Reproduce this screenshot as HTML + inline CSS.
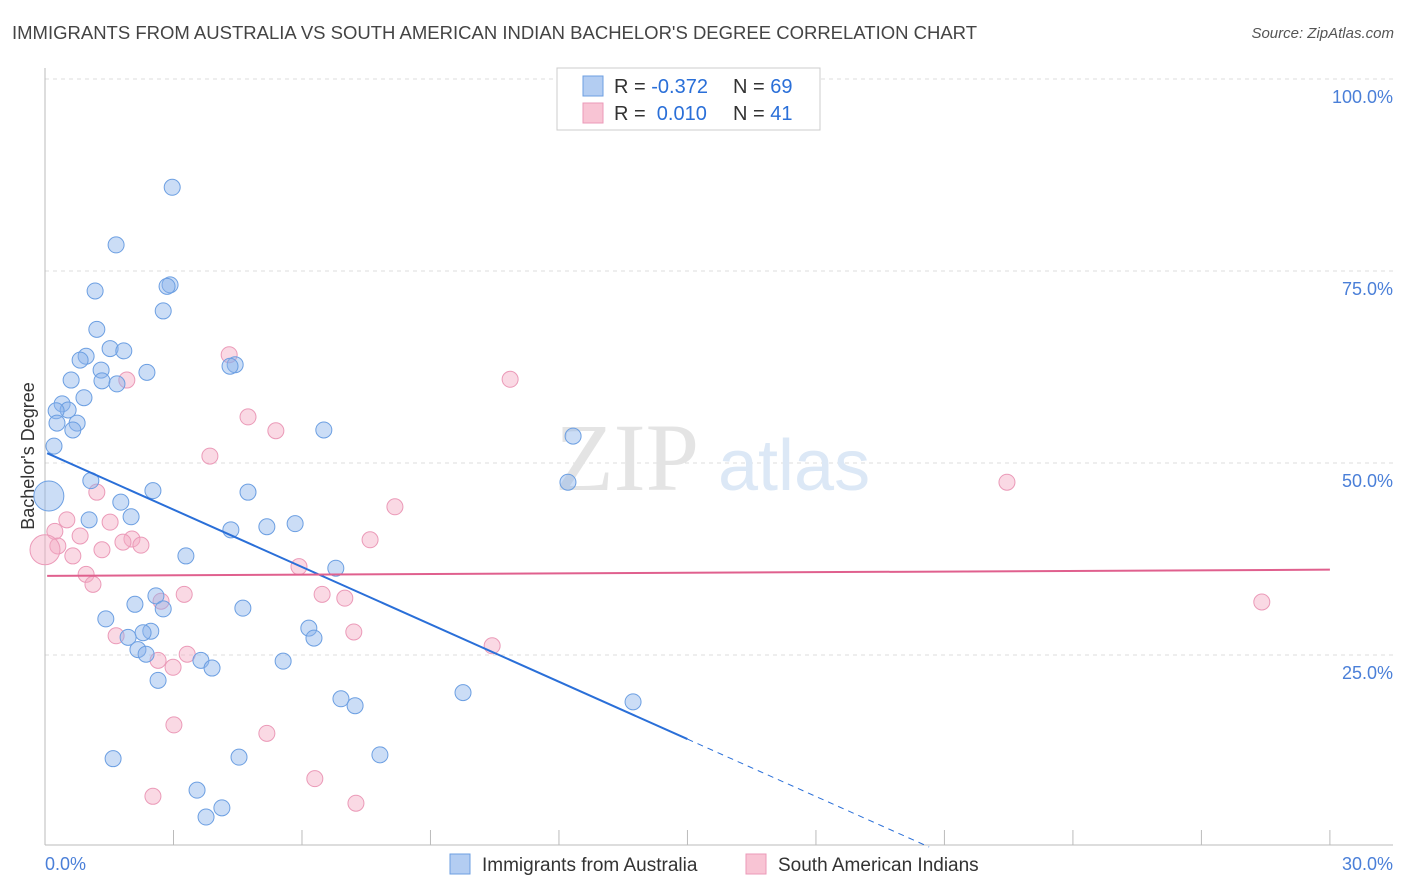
<!DOCTYPE html>
<html><head><meta charset="utf-8"><style>
body{margin:0;background:#fff;font-family:"Liberation Sans",sans-serif;}
#wrap{position:relative;width:1406px;height:892px;overflow:hidden;}
.t{position:absolute;white-space:nowrap;}
</style></head><body>
<div id="wrap">
<div class="t" style="left:12px;top:22px;font-size:18.5px;color:#444;">IMMIGRANTS FROM AUSTRALIA VS SOUTH AMERICAN INDIAN BACHELOR'S DEGREE CORRELATION CHART</div>
<div class="t" style="right:12px;top:25px;font-size:15px;color:#555;font-style:italic;">Source: ZipAtlas.com</div>
<svg id="svg" width="1406" height="892" style="position:absolute;left:0;top:0"></svg>
</div>
<script>
const blueX=[2.97,1.66,1.17,2.92,2.85,2.76,1.21,1.52,1.84,0.96,0.82,1.31,2.38,0.61,1.33,1.68,4.44,4.32,0.91,0.40,0.54,0.26,0.28,0.75,0.65,6.51,12.33,0.21,0.09,1.07,2.52,4.74,12.21,1.77,2.01,1.03,5.84,5.18,4.34,3.29,6.79,2.59,2.10,2.76,4.62,1.42,6.16,2.47,2.29,1.94,6.28,2.17,2.36,3.64,5.56,3.90,2.64,9.76,6.91,7.24,13.73,1.59,4.53,7.82,3.55,4.13,3.76];
const blueY=[85.9,78.4,72.4,73.2,73.0,69.8,67.4,64.9,64.6,63.9,63.4,62.1,61.8,60.8,60.7,60.3,62.8,62.6,58.5,57.7,56.9,56.8,55.2,55.2,54.3,54.3,53.5,52.2,45.7,47.7,46.4,46.2,47.5,44.9,43.0,42.6,42.1,41.7,41.3,37.9,36.3,32.7,31.6,31.0,31.1,29.7,28.5,28.1,27.9,27.3,27.2,25.7,25.1,24.3,24.2,23.3,21.7,20.1,19.3,18.4,18.9,11.5,11.7,12.0,7.4,5.1,3.9];
const pinkX=[4.30,10.86,1.91,4.74,5.39,3.85,1.21,8.17,22.46,0.51,1.52,0.23,0.82,2.03,1.82,2.24,7.59,0.30,1.33,0.65,0.0,5.93,0.96,1.12,6.47,3.25,2.71,7.00,7.21,28.41,1.66,10.44,3.32,2.64,2.99,3.01,5.18,6.30,2.52,7.26];
const pinkY=[64.1,60.9,60.8,56.0,54.2,50.9,46.2,44.3,47.5,42.6,42.3,41.1,40.5,40.1,39.7,39.3,40.0,39.2,38.7,37.9,38.7,36.5,35.5,34.2,32.9,32.9,32.0,32.4,28.0,31.9,27.5,26.2,25.1,24.3,23.4,15.9,14.8,8.9,6.6,5.7];
const blueTrend=[51.4,-2.49];
const pinkTrend=[35.3,0.027];
const yTicks=[25,50,75,100];
const yTickLabels=["25.0%","50.0%","75.0%","100.0%"];
const xTicks=[0,3,6,9,12,15,18,21,24,27,30];

const NS="http://www.w3.org/2000/svg";
const svg=document.getElementById('svg');
const X=v=>45+v*42.83, Y=v=>847-v*7.68;
function mk(tag,attrs){const e=document.createElementNS(NS,tag);for(const k in attrs)e.setAttribute(k,attrs[k]);svg.appendChild(e);return e;}
function txt(x,y,s,attrs){const e=mk('text',Object.assign({x:x,y:y},attrs));e.textContent=s;return e;}

yTicks.forEach((t,i)=>{
  const g=mk('line',{x1:45,x2:1393,y1:Y(t),y2:Y(t),stroke:'#ddd','stroke-dasharray':'4,4'});
  
  
  const l=txt(1393,Y(t)+24,yTickLabels[i],{'text-anchor':'end','font-size':18,fill:'#4a7fd8','font-family':'Liberation Sans'});
  
  
});
const topGrid=mk('line',{x1:45,x2:1393,y1:79,y2:79,stroke:'#ddd','stroke-dasharray':'4,4'});


const ya=mk('line',{x1:45,x2:45,y1:68,y2:845,stroke:'#bbb'});


const xa=mk('line',{x1:45,x2:1393,y1:845,y2:845,stroke:'#bbb'});


xTicks.forEach(t=>{
  const e=mk('line',{x1:X(t),x2:X(t),y1:830,y2:845,stroke:'#bbb'});
  
  
});
const xl0=txt(45,870,'0.0%',{'font-size':18,fill:'#4a7fd8','font-family':'Liberation Sans'});


const xl1=txt(1393,870,'30.0%',{'text-anchor':'end','font-size':18,fill:'#4a7fd8','font-family':'Liberation Sans'});


const yt=txt(0,0,"Bachelor's Degree",{'font-size':18,fill:'#333','font-family':'Liberation Sans','text-anchor':'middle',transform:'translate(34,456) rotate(-90)'});



const w1=txt(555,490,'ZIP',{'font-size':96,fill:'#e4e4e4','font-family':'Liberation Serif'});


const w2=txt(718,490,'atlas',{'font-size':72,fill:'#dce8f6','font-family':'Liberation Sans'});



function dot(x,y,big,blue){
  const c=mk('circle',{cx:X(x),cy:Y(y),r:big?15:8,fill:blue?'rgba(140,180,235,0.45)':'rgba(244,170,196,0.45)',stroke:blue?'#6c9fe2':'#eb9ab8','stroke-width':1});
  
  
}
pinkX.forEach((x,i)=>dot(x,pinkY[i],x<0.05,false));
blueX.forEach((x,i)=>dot(x,blueY[i],x<0.1,true));

const bEnd=15, bZero=-blueTrend[0]/blueTrend[1];
const bl=mk('line',{x1:X(0.05),y1:Y(blueTrend[0]+blueTrend[1]*0.05),x2:X(bEnd),y2:Y(blueTrend[0]+blueTrend[1]*bEnd),stroke:'#2a6fd8','stroke-width':2});


const bd=mk('line',{x1:X(bEnd),y1:Y(blueTrend[0]+blueTrend[1]*bEnd),x2:X(bZero),y2:Y(0),stroke:'#2a6fd8','stroke-width':1,'stroke-dasharray':'6,5'});


const pl=mk('line',{x1:X(0.05),y1:Y(pinkTrend[0]),x2:X(30),y2:Y(pinkTrend[0]+pinkTrend[1]*30),stroke:'#e0608e','stroke-width':2});



const lb=mk('rect',{x:557,y:68,width:263,height:62,fill:'#fff',stroke:'#ccc'});


[[0,'#b3cdf2','#6c9fe2','-0.372','69'],[1,'#f8c4d4','#eb9ab8','0.010','41']].forEach(r=>{
  const y=86+r[0]*27;
  const s=mk('rect',{x:583,y:y-10,width:20,height:20,fill:r[1],stroke:r[2]});
  
  
  const t=mk('text',{x:614,y:y+7,'font-size':20,'font-family':'Liberation Sans',fill:'#333'});
  t.innerHTML='R = <tspan fill="#2a6fd8">'+(r[0]?'\u00a0'+r[3]:r[3])+'</tspan><tspan x="733">N = </tspan><tspan fill="#2a6fd8">'+r[4]+'</tspan>';
  
  
});
[[450,'#b3cdf2','#6c9fe2','Immigrants from Australia','legend-australia'],[746,'#f8c4d4','#eb9ab8','South American Indians','legend-south-american-indian']].forEach(r=>{
  const s=mk('rect',{x:r[0],y:854,width:20,height:20,fill:r[1],stroke:r[2]});
  
  
  const t=txt(r[0]+32,871,r[3],{'font-size':19,fill:'#333','font-family':'Liberation Sans'});
  
  
});
</script>
</body></html>
